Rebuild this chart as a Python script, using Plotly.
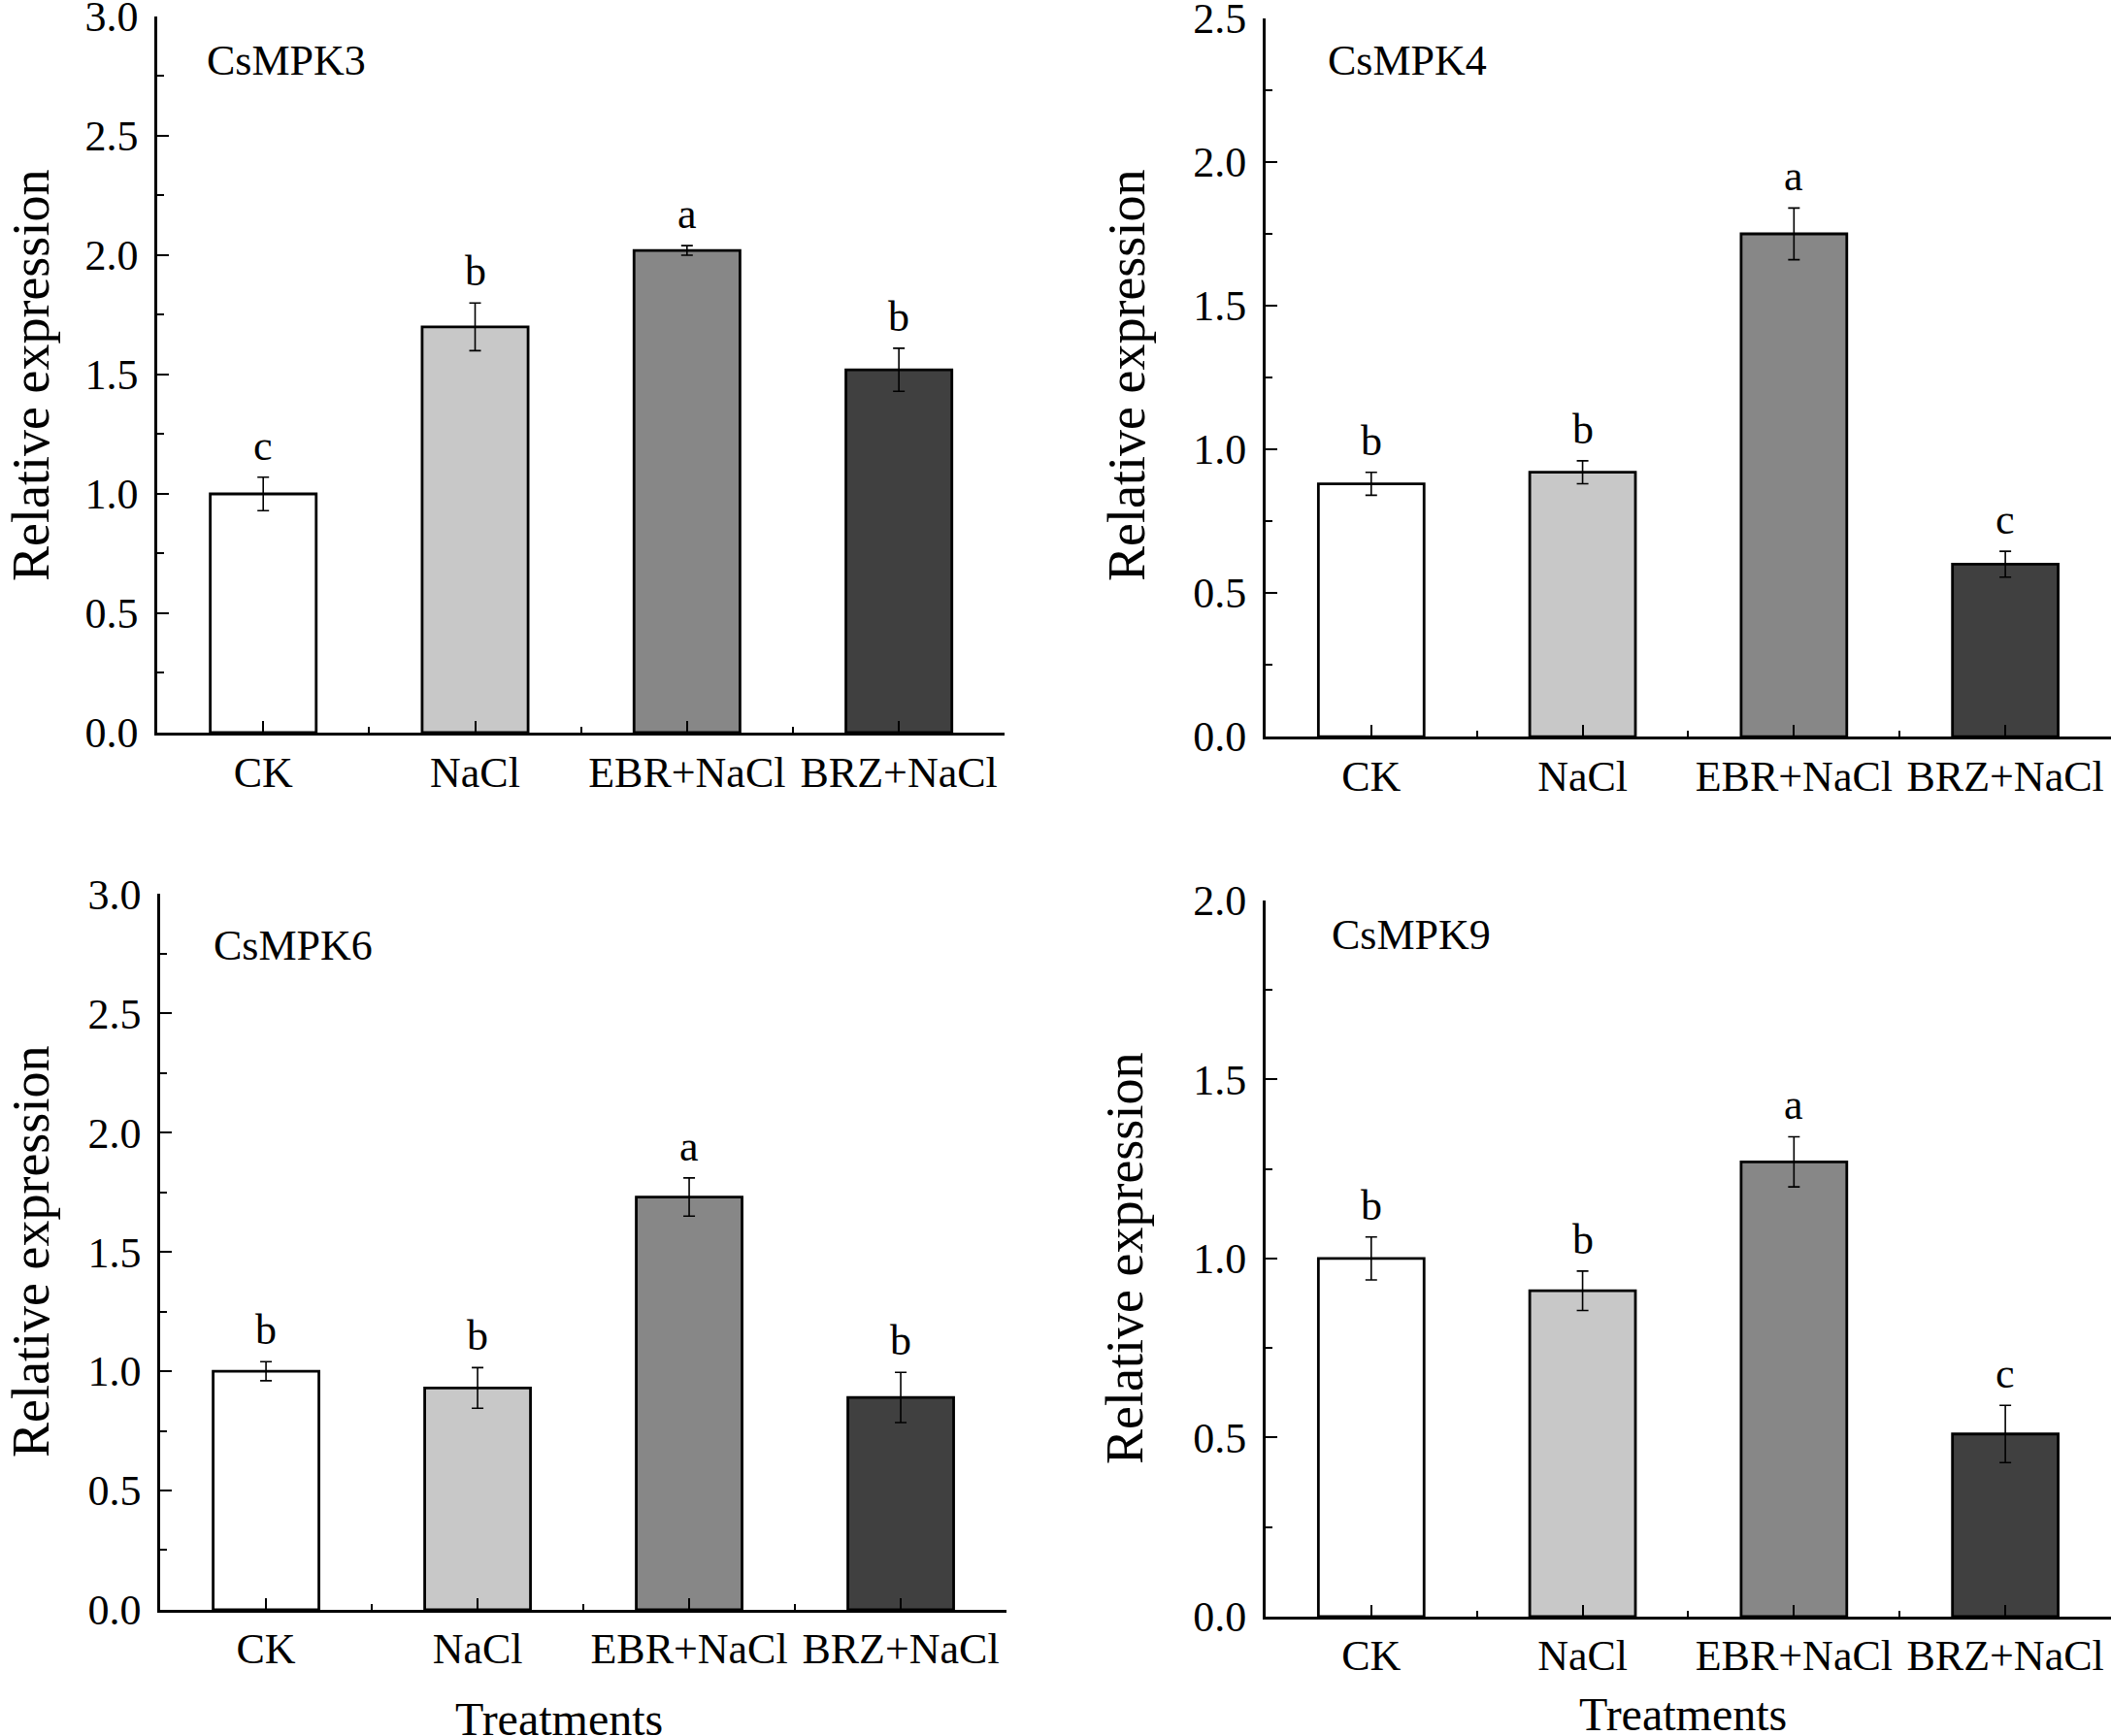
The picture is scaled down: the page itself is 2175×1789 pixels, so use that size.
import plotly.graph_objects as go
from plotly.subplots import make_subplots

# data
treatments = ["CK", "NaCl", "EBR+NaCl", "BRZ+NaCl"]
bar_colors = ["#ffffff", "#c8c8c8", "#878787", "#404040"]

genes = ["CsMPK3", "CsMPK4", "CsMPK6", "CsMPK9"]

mpk3 = [1.00, 1.70, 2.02, 1.52]
mpk3_err = [0.07, 0.10, 0.02, 0.09]
mpk3_sig = ["c", "b", "a", "b"]

mpk4 = [0.88, 0.92, 1.75, 0.60]
mpk4_err = [0.04, 0.04, 0.09, 0.045]
mpk4_sig = ["b", "b", "a", "c"]

mpk6 = [1.00, 0.93, 1.73, 0.89]
mpk6_err = [0.04, 0.085, 0.08, 0.105]
mpk6_sig = ["b", "b", "a", "b"]

mpk9 = [1.00, 0.91, 1.27, 0.51]
mpk9_err = [0.06, 0.055, 0.07, 0.08]
mpk9_sig = ["b", "b", "a", "c"]

y_max = [3.0, 2.5, 3.0, 2.0]

FONT = "Liberation Serif"
W, H = 2175, 1789

fig = make_subplots(rows=2, cols=2)

panels = [
    (1, 1, mpk3, mpk3_err, mpk3_sig),
    (1, 2, mpk4, mpk4_err, mpk4_sig),
    (2, 1, mpk6, mpk6_err, mpk6_sig),
    (2, 2, mpk9, mpk9_err, mpk9_sig),
]

xpos = list(range(len(treatments)))

for k, (r, c, vals, errs, sig) in enumerate(panels):
    fig.add_trace(go.Bar(
        x=xpos, y=vals, width=0.5,
        marker=dict(color=bar_colors, line=dict(color="black", width=2.8)),
        error_y=dict(type="data", array=errs, color="black", thickness=1.6, width=6),
        showlegend=False,
    ), row=r, col=c)
    ax = "" if k == 0 else str(k + 1)
    for i in xpos:
        fig.add_annotation(
            x=i, y=vals[i] + errs[i], xref="x" + ax, yref="y" + ax,
            text=sig[i], showarrow=False, yanchor="bottom", yshift=6,
            font=dict(family=FONT, size=44, color="black"),
        )

# panel placement (paper coords)
x_dom = [[0.0745, 0.476], [0.5995, 1.0], [0.0759, 0.4768], [0.5995, 1.0]]
y_dom = [[0.578, 0.9905], [0.5757, 0.9894], [0.0727, 0.485], [0.0688, 0.4813]]

for k in range(4):
    ax = "" if k == 0 else str(k + 1)
    fig.layout["xaxis" + ax].update(
        domain=x_dom[k], range=[-0.5, 3.5], automargin=False,
        tickvals=xpos, ticktext=treatments, ticklabeloverflow="allow",
        ticks="inside", ticklen=12, tickwidth=2, tickcolor="black",
        minor=dict(tickvals=[0.5, 1.5, 2.5, 3.5], ticks="inside", ticklen=6,
                   tickwidth=2, tickcolor="black"),
        showline=True, linecolor="black", linewidth=2.5,
        showgrid=False, zeroline=False,
        tickfont=dict(family=FONT, size=44, color="black"),
    )
    fig.layout["yaxis" + ax].update(
        domain=y_dom[k], range=[0, y_max[k]], dtick=0.5, tickformat=".1f",
        automargin=False, ticklabeloverflow="allow",
        ticks="inside", ticklen=12, tickwidth=2, tickcolor="black",
        minor=dict(dtick=0.25, ticks="inside", ticklen=7, tickwidth=2,
                   tickcolor="black"),
        showline=True, linecolor="black", linewidth=2.5,
        showgrid=False, zeroline=False, ticklabelstandoff=8,
        tickfont=dict(family=FONT, size=44, color="black"),
    )

# gene names
title_pos = [(211, 62), (1366, 62), (218, 975), (1370, 964)]
for g, (px, py) in zip(genes, title_pos):
    fig.add_annotation(x=px / W, y=1 - py / H, xref="paper", yref="paper",
                       text=g, showarrow=False, xanchor="left", yanchor="middle",
                       font=dict(family=FONT, size=44, color="black"))

# y titles (left edge of the rotated box)
ytitle_pos = [(0, 387), (1129, 387), (0, 1290), (1127, 1297)]
for px, py in ytitle_pos:
    fig.add_annotation(x=px / W, y=1 - py / H, xref="paper", yref="paper",
                       text="Relative expression", showarrow=False, textangle=-90,
                       xanchor="left", yanchor="middle",
                       font=dict(family=FONT, size=54, color="black"))

# x titles (bottom row only)
for px, py in [(576, 1771), (1734, 1766)]:
    fig.add_annotation(x=px / W, y=1 - py / H, xref="paper", yref="paper",
                       text="Treatments", showarrow=False,
                       xanchor="center", yanchor="middle",
                       font=dict(family=FONT, size=48, color="black"))

fig.update_layout(
    width=W, height=H,
    margin=dict(l=0, r=0, t=0, b=0),
    plot_bgcolor="white", paper_bgcolor="white",
    bargap=0.5,
)

fig.write_html("out.html", config={"displayModeBar": False},
               post_script="document.body.style.margin='0';")
